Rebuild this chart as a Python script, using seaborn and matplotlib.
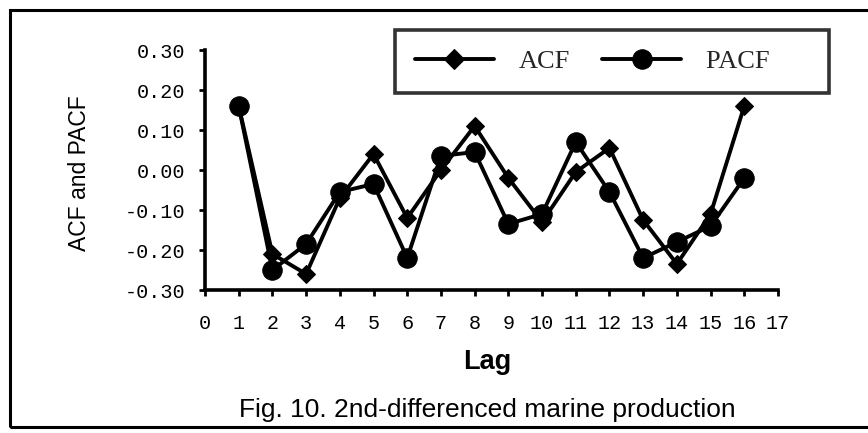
import matplotlib
matplotlib.use("Agg")
import matplotlib.pyplot as plt
import seaborn as sns
import pandas as pd
from matplotlib.patches import Rectangle

lags = list(range(1, 17))
acf = [0.16, -0.21, -0.26, -0.07, 0.04, -0.12, 0.00, 0.11, -0.02, -0.13, -0.005, 0.055, -0.125, -0.235, -0.11, 0.16]
pacf = [0.16, -0.25, -0.185, -0.055, -0.035, -0.22, 0.035, 0.045, -0.135, -0.11, 0.07, -0.055, -0.22, -0.18, -0.14, -0.02]
yticks = [-0.30, -0.20, -0.10, 0.00, 0.10, 0.20, 0.30]
ytick_labels = ["-0.30", "-0.20", "-0.10", "0.00", "0.10", "0.20", "0.30"]
xticks = list(range(0, 18))

sns.set_theme(style="white")
plt.rcParams["font.family"] = ["Liberation Sans", "DejaVu Sans"]

df = pd.DataFrame({
    "Lag": lags * 2,
    "value": acf + pacf,
    "series": ["ACF"] * len(lags) + ["PACF"] * len(lags),
})

fig = plt.figure(figsize=(8.68, 4.33), dpi=100)
ax = fig.add_axes([205 / 868, 1 - 290 / 433, (778 - 205) / 868, (290 - 50) / 433])

sns.lineplot(data=df[df.series == "ACF"], x="Lag", y="value", color="black",
             marker="D", markersize=9.5, linewidth=2.8, markeredgecolor="black",
             label="ACF", ax=ax)
sns.lineplot(data=df[df.series == "PACF"], x="Lag", y="value", color="black",
             marker="o", markersize=14, linewidth=2.8, markeredgecolor="black",
             label="PACF", ax=ax)

ax.set_xlim(0, 17)
ax.set_ylim(-0.30, 0.30)
ax.set_xticks(xticks)
ax.set_xticklabels([str(t) for t in xticks])
ax.set_yticks(yticks)
ax.set_yticklabels(ytick_labels)
for lab in ax.get_xticklabels() + ax.get_yticklabels():
    lab.set_fontfamily("Liberation Mono")
    lab.set_fontsize(14.5)
    lab.set_color("black")
ax.tick_params(axis="both", direction="out", length=4, width=2, color="black",
               left=True, bottom=True)
ax.tick_params(axis="y", pad=10)
ax.tick_params(axis="x", pad=13)
for s in ["top", "right"]:
    ax.spines[s].set_visible(False)
for s in ["left", "bottom"]:
    ax.spines[s].set_color("black")
    ax.spines[s].set_linewidth(2.6)
ax.set_xlabel("")
ax.set_ylabel("")

leg = ax.legend(loc="upper left", bbox_to_anchor=(395 / 868, 1 - 30 / 433),
                bbox_transform=fig.transFigure, ncol=2, frameon=True,
                prop={"family": "Liberation Serif", "size": 19},
                handlelength=3.0, handletextpad=0.95, columnspacing=1.2,
                borderpad=0.75, borderaxespad=0, fancybox=False)
leg.get_frame().set_edgecolor("black")
leg.get_frame().set_linewidth(2.6)
leg.legend_handles[0].set_markersize(10)
leg.legend_handles[1].set_markersize(14)
leg.get_texts()[1].set_text("PACF      ")

fig.text(80 / 868, 1 - 173 / 433, "ACF and PACF", rotation=90, ha="center",
         va="center", fontsize=16.5, color="black")
fig.text(487 / 868, 1 - 362 / 433, "Lag", ha="center", va="center",
         fontsize=19.5, fontweight="bold", color="black")
fig.text(487 / 868, 1 - 410 / 433, "Fig. 10. 2nd-differenced marine production",
         ha="center", va="center", fontsize=19, color="black")

fig.patches.append(Rectangle((10 / 868, 1 - 427 / 433), 0.999, (427 - 10) / 433,
                             transform=fig.transFigure, fill=False,
                             edgecolor="black", linewidth=2.2))

fig.savefig("out.png", dpi=100)
